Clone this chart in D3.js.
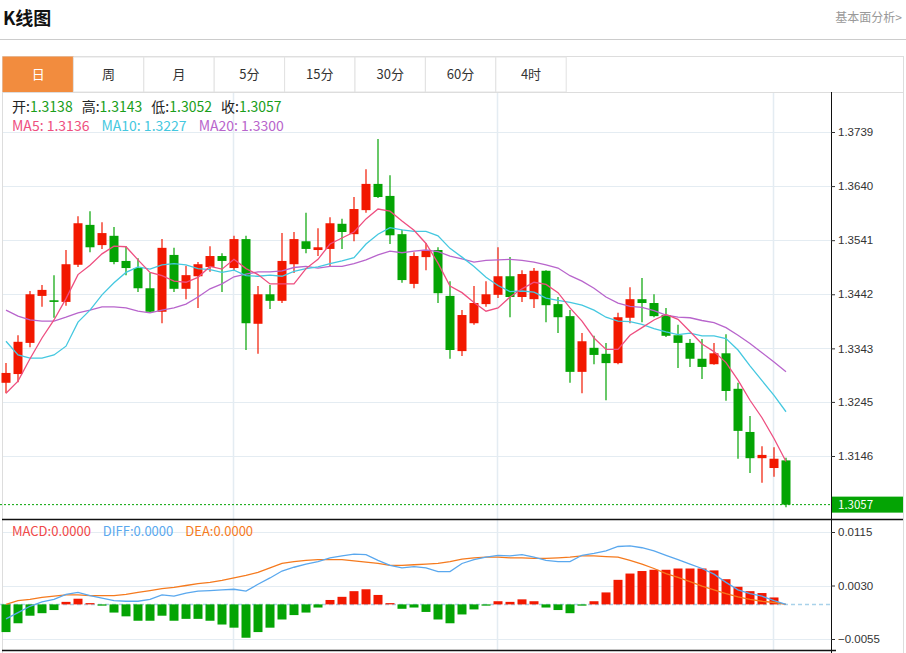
<!DOCTYPE html>
<html>
<head>
<meta charset="utf-8">
<script src="https://cdn.jsdelivr.net/npm/d3@7"></script>
<style>
body { margin: 0; background: #fff; }
text { font-family: "Noto Sans CJK SC", "Noto Sans", sans-serif; }
.axis text { font-family: "Liberation Sans", sans-serif; font-size: 11.5px; fill: #333; }
.axis line { stroke: #333; }
</style>
</head>
<body>
<div id="chart"></div>
<script>
// daily candles
var openP = [1.3280,1.3296,1.3353,1.3439,1.3431,1.3428,1.3496,1.3569,1.3532,1.3549,
  1.3503,1.3490,1.3453,1.3410,1.3514,1.3452,1.3475,1.3492,1.3512,1.3490,
  1.3543,1.3388,1.3442,1.3430,1.3497,1.3539,1.3523,1.3525,1.3571,1.3552,
  1.3596,1.3644,1.3622,1.3552,1.3461,1.3510,1.3523,1.3439,1.3338,1.3389,
  1.3424,1.3441,1.3475,1.3437,1.3433,1.3485,1.3424,1.3402,1.3300,1.3344,
  1.3333,1.3316,1.3399,1.3433,1.3426,1.3404,1.3367,1.3353,1.3324,1.3314,
  1.3334,1.3269,1.3190,1.3142,1.3124,1.3138];
var highP = [1.3316,1.3367,1.3448,1.3459,1.3477,1.3523,1.3585,1.3594,1.3574,1.3565,
  1.3530,1.3508,1.3481,1.3543,1.3527,1.3494,1.3501,1.3530,1.3517,1.3549,
  1.3549,1.3457,1.3459,1.3554,1.3556,1.3591,1.3563,1.3583,1.3580,1.3620,
  1.3671,1.3726,1.3660,1.3560,1.3519,1.3536,1.3528,1.3466,1.3413,1.3457,
  1.3466,1.3528,1.3510,1.3486,1.3490,1.3486,1.3437,1.3413,1.3371,1.3366,
  1.3353,1.3408,1.3455,1.3472,1.3442,1.3417,1.3386,1.3360,1.3360,1.3353,
  1.3369,1.3280,1.3219,1.3164,1.3162,1.3143];
var lowP = [1.3261,1.3281,1.3345,1.3419,1.3399,1.3421,1.3492,1.3519,1.3525,1.3497,
  1.3477,1.3446,1.3408,1.3389,1.3446,1.3433,1.3417,1.3483,1.3446,1.3486,
  1.3340,1.3333,1.3415,1.3426,1.3481,1.3517,1.3512,1.3492,1.3525,1.3539,
  1.3591,1.3618,1.3534,1.3463,1.3453,1.3486,1.3426,1.3324,1.3329,1.3386,
  1.3419,1.3435,1.3400,1.3428,1.3417,1.3391,1.3371,1.3280,1.3261,1.3314,
  1.3248,1.3314,1.3389,1.3391,1.3400,1.3364,1.3307,1.3309,1.3287,1.3313,
  1.3247,1.3141,1.3115,1.3097,1.3108,1.3052];
var closeP = [1.3298,1.3355,1.3442,1.3450,1.3428,1.3497,1.3572,1.3528,1.3554,1.3501,
  1.3490,1.3453,1.3410,1.3527,1.3452,1.3477,1.3497,1.3512,1.3503,1.3543,
  1.3389,1.3442,1.3430,1.3503,1.3543,1.3525,1.3528,1.3572,1.3556,1.3598,
  1.3644,1.3620,1.3550,1.3468,1.3512,1.3523,1.3444,1.3340,1.3404,1.3426,
  1.3442,1.3475,1.3437,1.3479,1.3485,1.3422,1.3400,1.3300,1.3356,1.3331,
  1.3316,1.3400,1.3433,1.3426,1.3402,1.3366,1.3353,1.3324,1.3309,1.3334,
  1.3265,1.3192,1.3142,1.3148,1.3141,1.3057];

var ma5 = [1.3261,1.3283,1.3324,1.3362,1.3395,1.3434,1.3478,1.3495,1.3516,1.3530,
  1.3529,1.3505,1.3482,1.3476,1.3466,1.3464,1.3473,1.3493,1.3488,1.3506,
  1.3489,1.3478,1.3461,1.3461,1.3461,1.3489,1.3506,1.3534,1.3545,1.3556,
  1.3580,1.3598,1.3594,1.3576,1.3559,1.3535,1.3499,1.3457,1.3445,1.3427,
  1.3411,1.3417,1.3437,1.3452,1.3464,1.3460,1.3445,1.3417,1.3393,1.3362,
  1.3341,1.3341,1.3367,1.3381,1.3395,1.3405,1.3396,1.3374,1.3351,1.3337,
  1.3317,1.3285,1.3248,1.3216,1.3178,1.3136];
var ma10 = [1.3356,1.3331,1.3325,1.3325,1.3331,1.3347,1.3391,1.3413,1.3441,1.3463,
  1.3482,1.3492,1.3488,1.3496,1.3498,1.3496,1.3489,1.3487,1.3482,1.3486,
  1.3476,1.3475,1.3477,1.3475,1.3484,1.3489,1.3492,1.3498,1.3503,1.3509,
  1.3534,1.3552,1.3564,1.3560,1.3557,1.3557,1.3549,1.3526,1.3510,1.3493,
  1.3473,1.3458,1.3447,1.3448,1.3446,1.3435,1.3431,1.3427,1.3422,1.3413,
  1.3400,1.3393,1.3392,1.3387,1.3379,1.3373,1.3368,1.3371,1.3366,1.3366,
  1.3361,1.3340,1.3311,1.3284,1.3257,1.3227];
var ma20 = [1.3413,1.3402,1.3395,1.3393,1.3393,1.3400,1.3408,1.3413,1.3419,1.3419,
  1.3417,1.3411,1.3408,1.3413,1.3417,1.3424,1.3437,1.3452,1.3461,1.3474,
  1.3479,1.3483,1.3483,1.3485,1.3491,1.3493,1.3490,1.3493,1.3493,1.3498,
  1.3505,1.3514,1.3521,1.3518,1.3521,1.3523,1.3520,1.3512,1.3507,1.3501,
  1.3504,1.3505,1.3506,1.3504,1.3501,1.3496,1.3490,1.3476,1.3466,1.3453,
  1.3437,1.3426,1.3420,1.3418,1.3412,1.3404,1.3400,1.3399,1.3394,1.3390,
  1.3381,1.3367,1.3352,1.3335,1.3318,1.3300];

var macdBar = [-0.0044,-0.0030,-0.0018,-0.0014,-0.0009,0.0004,0.0009,0.0002,-0.0002,-0.0013,
  -0.0019,-0.0026,-0.0026,-0.0018,-0.0026,-0.0023,-0.0023,-0.0026,-0.0032,-0.0037,
  -0.0053,-0.0044,-0.0037,-0.0024,-0.0017,-0.0013,-0.0005,0.0007,0.0012,0.0021,
  0.0024,0.0015,0.0002,-0.0007,-0.0005,-0.0012,-0.0024,-0.0030,-0.0016,-0.0008,
  -0.0002,0.0005,0.0004,0.0008,0.0005,-0.0005,-0.0009,-0.0014,-0.0002,0.0005,
  0.0019,0.0039,0.0049,0.0053,0.0055,0.0055,0.0057,0.0057,0.0057,0.0054,
  0.0040,0.0028,0.0021,0.0018,0.0011,0];
var diffLine = [-0.0023,-0.0013,-0.0003,0.0004,0.0008,0.0016,0.0019,0.0014,0.0010,0.0006,
  0.0005,0.0005,0.0008,0.0015,0.0013,0.0018,0.0021,0.0022,0.0023,0.0024,
  0.0021,0.0032,0.0042,0.0053,0.0059,0.0064,0.0068,0.0074,0.0077,0.0080,
  0.0079,0.0070,0.0062,0.0058,0.0060,0.0058,0.0052,0.0052,0.0065,0.0071,
  0.0075,0.0078,0.0077,0.0079,0.0075,0.0070,0.0068,0.0068,0.0078,0.0081,
  0.0085,0.0092,0.0093,0.0090,0.0085,0.0078,0.0071,0.0064,0.0057,0.0048,
  0.0035,0.0023,0.0017,0.0013,0.0006,0];
var deaLine = [0,0.0006,0.0008,0.0011,0.0013,0.0015,0.0015,0.0014,0.0014,0.0014,
  0.0016,0.0019,0.0022,0.0025,0.0027,0.0030,0.0033,0.0035,0.0038,0.0042,
  0.0046,0.0051,0.0058,0.0065,0.0068,0.0070,0.0071,0.0071,0.0071,0.0069,
  0.0067,0.0065,0.0062,0.0062,0.0063,0.0064,0.0065,0.0068,0.0072,0.0074,
  0.0075,0.0075,0.0074,0.0074,0.0073,0.0073,0.0074,0.0075,0.0077,0.0077,
  0.0076,0.0075,0.0070,0.0064,0.0057,0.0049,0.0043,0.0036,0.0029,0.0023,
  0.0017,0.0012,0.0008,0.0005,0.0003,0];

var priceTicks = [1.3146,1.3245,1.3343,1.3442,1.3541,1.3640,1.3739];
var macdTicks = [-0.0055,0.0030,0.0115];
var gridIdx = [19, 41, 64];
var tabs = ["日","周","月","5分","15分","30分","60分","4时"];

var w = 906, h = 653;
var axisX = 831;
var red = "#f21800", green = "#04a404";

var svg = d3.select("#chart").append("svg").attr("width", w).attr("height", h);

// header
svg.append("text").attr("x", 3).attr("y", 25).attr("font-size", 18).attr("font-weight", "bold")
  .attr("fill", "#111").text("K线图");
svg.append("text").attr("x", 902).attr("y", 22).attr("text-anchor", "end").attr("font-size", 12)
  .attr("fill", "#999").text("基本面分析>");
svg.append("line").attr("x1", 0).attr("x2", w).attr("y1", 39.5).attr("y2", 39.5).attr("stroke", "#ccc");

// frame + tabs
svg.append("rect").attr("x", 2.5).attr("y", 56.5).attr("width", 901).attr("height", 600)
  .attr("fill", "none").attr("stroke", "#ddd");
var tabW = 70.4;
var tabG = svg.selectAll("g.tab").data(tabs).enter().append("g").attr("class", "tab")
  .attr("transform", function(d, i) { return "translate(" + (3 + i * tabW) + ",57)"; });
tabG.append("rect").attr("width", tabW).attr("height", 35)
  .attr("fill", function(d, i) { return i == 0 ? "#f28c3e" : "#fff"; })
  .attr("stroke", function(d, i) { return i == 0 ? "#f28c3e" : "#e2e2e2"; });
tabG.append("text").attr("x", tabW / 2).attr("y", 22).attr("text-anchor", "middle").attr("font-size", 13)
  .attr("fill", function(d, i) { return i == 0 ? "#fff" : "#333"; }).text(function(d) { return d; });
svg.append("line").attr("x1", 2).attr("x2", 903).attr("y1", 92.5).attr("y2", 92.5).attr("stroke", "#ddd");

// scales
var xScale = d3.scaleBand().domain(d3.range(closeP.length)).range([0, 792])
  .paddingInner(0.25).paddingOuter(0.125);
var cx = function(i) { return xScale(i) + xScale.bandwidth() / 2; };
var yScale = d3.scaleLinear().domain([1.3146, 1.3739]).range([456, 132]);
var mY = d3.scaleLinear().domain([-0.0055, 0.0115]).range([639, 532]);

// grid
var grid = svg.append("g").attr("stroke", "#e4ecf2");
grid.selectAll("line.hp").data(priceTicks).enter().append("line")
  .attr("x1", 3).attr("x2", axisX).attr("y1", function(d) { return Math.round(yScale(d)) + 0.5; })
  .attr("y2", function(d) { return Math.round(yScale(d)) + 0.5; });
grid.selectAll("line.hm").data(macdTicks).enter().append("line")
  .attr("x1", 3).attr("x2", axisX).attr("y1", function(d) { return Math.round(mY(d)) + 0.5; })
  .attr("y2", function(d) { return Math.round(mY(d)) + 0.5; });
grid.selectAll("line.v").data(gridIdx).enter().append("line")
  .attr("x1", function(d) { return cx(d) - 0.5; }).attr("x2", function(d) { return cx(d) - 0.5; })
  .attr("y1", 93).attr("y2", 650).attr("stroke-width", 1.5);

// candles
var idx = d3.range(closeP.length);
var cg = svg.append("g");
cg.selectAll("line.wick").data(idx).enter().append("line")
  .attr("x1", function(i) { return cx(i); }).attr("x2", function(i) { return cx(i); })
  .attr("y1", function(i) { return yScale(highP[i]); }).attr("y2", function(i) { return yScale(lowP[i]); })
  .attr("stroke", function(i) { return closeP[i] >= openP[i] ? red : green; }).attr("stroke-width", 1.2);
cg.selectAll("rect.body").data(idx).enter().append("rect")
  .attr("x", function(i) { return xScale(i); })
  .attr("y", function(i) { return yScale(Math.max(openP[i], closeP[i])); })
  .attr("width", xScale.bandwidth())
  .attr("height", function(i) { return Math.max(1.5, Math.abs(yScale(openP[i]) - yScale(closeP[i]))); })
  .attr("fill", function(i) { return closeP[i] >= openP[i] ? red : green; });

// MA lines
var maLine = d3.line().x(function(d, i) { return cx(i); }).y(function(d) { return yScale(d); });
[[ma20, "#b865cc"], [ma10, "#45c8e0"], [ma5, "#ee4f80"]].forEach(function(m) {
  svg.append("path").datum(m[0]).attr("d", maLine).attr("fill", "none")
    .attr("stroke", m[1]).attr("stroke-width", 1.3);
});

// last price
var last = closeP.length - 1;
var ly = yScale(closeP[last]);
svg.append("line").attr("x1", 0).attr("x2", axisX).attr("y1", ly).attr("y2", ly)
  .attr("stroke", green).attr("stroke-dasharray", "2,2");

// MACD panel
svg.append("line").attr("x1", 0).attr("x2", axisX).attr("y1", mY(0)).attr("y2", mY(0))
  .attr("stroke", "#a9d2ea").attr("stroke-width", 1.5).attr("stroke-dasharray", "4,3");
svg.selectAll("rect.macd").data(idx.filter(function(i) { return macdBar[i] != 0; })).enter().append("rect")
  .attr("x", function(i) { return xScale(i); })
  .attr("y", function(i) { return mY(Math.max(0, macdBar[i])); })
  .attr("width", xScale.bandwidth())
  .attr("height", function(i) { return Math.abs(mY(macdBar[i]) - mY(0)); })
  .attr("fill", function(i) { return macdBar[i] > 0 ? red : green; });
var mLine = d3.line().x(function(d, i) { return cx(i); }).y(function(d) { return mY(d); });
svg.append("path").datum(deaLine).attr("d", mLine).attr("fill", "none").attr("stroke", "#f57a1e").attr("stroke-width", 1.3);
svg.append("path").datum(diffLine).attr("d", mLine).attr("fill", "none").attr("stroke", "#5aa8ee").attr("stroke-width", 1.3);

// panel borders
svg.append("line").attr("x1", 2).attr("x2", 903).attr("y1", 519.5).attr("y2", 519.5).attr("stroke", "#111").attr("stroke-width", 1.5);
svg.append("line").attr("x1", 2).attr("x2", axisX + 5).attr("y1", 650.5).attr("y2", 650.5).attr("stroke", "#111").attr("stroke-width", 1.5);
svg.append("line").attr("x1", axisX + 0.5).attr("x2", axisX + 0.5).attr("y1", 92).attr("y2", h).attr("stroke", "#111");

// axes
var yAxis = d3.axisRight(yScale).tickValues(priceTicks).tickSize(4).tickFormat(d3.format(".4f"));
svg.append("g").attr("class", "axis").attr("transform", "translate(" + axisX + ",0)").call(yAxis)
  .call(function(g) { g.select(".domain").remove(); });
var mAxis = d3.axisRight(mY).tickValues(macdTicks).tickSize(4).tickFormat(d3.format(".4f"));
svg.append("g").attr("class", "axis").attr("transform", "translate(" + axisX + ",0)").call(mAxis)
  .call(function(g) { g.select(".domain").remove(); });

// last price label
svg.append("rect").attr("x", axisX + 1).attr("y", ly - 8).attr("width", 71).attr("height", 16).attr("fill", green);
svg.append("text").attr("class", "axis").attr("x", axisX + 7).attr("y", ly + 4.5)
  .attr("font-family", "Liberation Sans, sans-serif").attr("font-size", 11.5).attr("fill", "#fff")
  .text(d3.format(".4f")(closeP[last]));

// legends
var f4 = d3.format(".4f");
var leg1 = svg.append("text").attr("x", 12).attr("y", 112).attr("font-size", 14);
[["开:", openP[last]], ["高:", highP[last]], ["低:", lowP[last]], ["收:", closeP[last]]].forEach(function(p, i) {
  leg1.append("tspan").attr("fill", "#222").attr("dx", i == 0 ? 0 : 9).text(p[0]);
  leg1.append("tspan").attr("fill", "#1a9e1a").text(f4(p[1]));
});
var leg2 = svg.append("text").attr("x", 12).attr("y", 131).attr("font-size", 14);
[["MA5: ", ma5[last], "#ee4f80"], ["MA10: ", ma10[last], "#45c8e0"], ["MA20: ", ma20[last], "#b865cc"]].forEach(function(p, i) {
  leg2.append("tspan").attr("fill", p[2]).attr("dx", i == 0 ? 0 : 12).text(p[0] + f4(p[1]));
});
var leg3 = svg.append("text").attr("x", 12).attr("y", 536).attr("font-size", 13);
[["MACD:", macdBar[last], "#f04848"], ["DIFF:", diffLine[last], "#5aa8ee"], ["DEA:", deaLine[last], "#f57a1e"]].forEach(function(p, i) {
  leg3.append("tspan").attr("fill", p[2]).attr("dx", i == 0 ? 0 : 12).text(p[0] + f4(p[1]));
});
</script>
</body>
</html>
